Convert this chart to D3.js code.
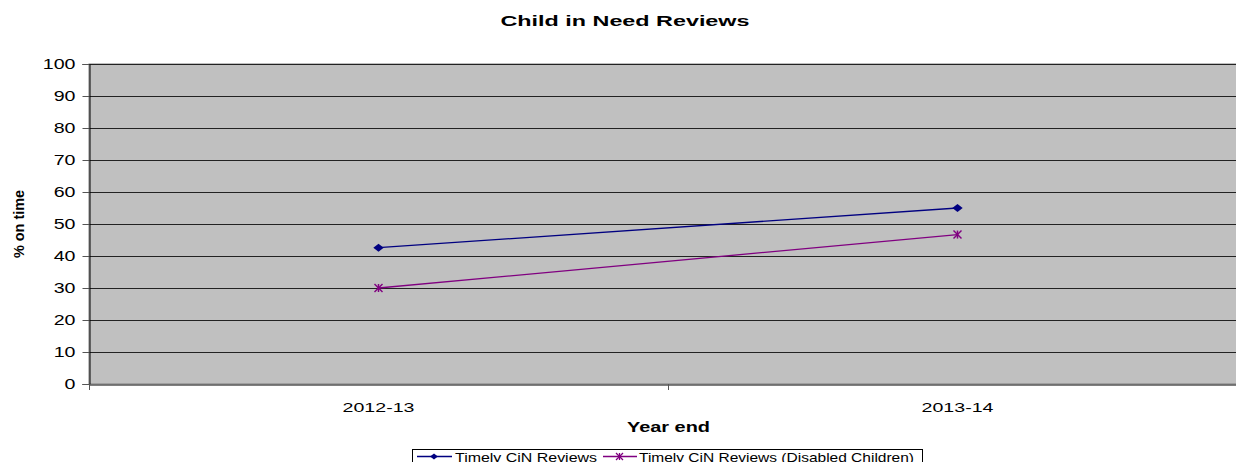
<!DOCTYPE html>
<html><head><meta charset="utf-8">
<script src="https://cdn.jsdelivr.net/npm/d3@7"></script>
<style>body{margin:0;background:#fff;overflow:hidden}text{font-family:"Liberation Sans",Arial,sans-serif}</style>
</head><body><svg id="c" width="1236" height="462"></svg>
<script>
const categories = ["2012-13", "2013-14"];
const seriesNames = ["Timely CiN Reviews", "Timely CiN Reviews (Disabled Children)"];
const reviews = [42.6, 55.0];
const disabledReviews = [30.0, 46.7];
const yTicks = [0,10,20,30,40,50,60,70,80,90,100];

const svg = d3.select("#c");
const L = 89, R = 1247, T = 64, B = 384;
const x = d3.scaleBand().domain(categories).range([L, R]);
const y = d3.scaleLinear().domain([0,100]).range([B, T]);

function stretch(sel, f){ sel.each(function(){ const w = this.getComputedTextLength(); d3.select(this).attr("textLength", w*f).attr("lengthAdjust","spacingAndGlyphs"); }); }

svg.append("rect").attr("x", L).attr("y", T).attr("width", R-L).attr("height", B-T)
  .attr("fill", "#c0c0c0").attr("stroke", "#808080");

svg.append("g").selectAll("line").data(yTicks.filter(d => d > 0)).join("line")
  .attr("x1", L).attr("x2", R).attr("y1", d => Math.round(y(d))+0.5).attr("y2", d => Math.round(y(d))+0.5)
  .attr("stroke", "#222").attr("stroke-width", 1);

const yAxis = svg.append("g").attr("transform", `translate(${L+0.5},0)`)
  .call(d3.axisLeft(y).tickValues(yTicks).tickSize(7).tickPadding(7));
yAxis.select(".domain").attr("stroke", "#000");
yAxis.selectAll(".tick line").attr("stroke", "#555");
yAxis.selectAll("text").attr("font-size", 14).attr("fill", "#000").attr("font-family","Liberation Sans, Arial, sans-serif");
stretch(yAxis.selectAll("text"), 1.4);

const xAxis = svg.append("g").attr("transform", `translate(0,${B+0.5})`)
  .call(d3.axisBottom(x).tickSize(0).tickPadding(18));
xAxis.select(".domain").attr("stroke", "#555").attr("stroke-width", 1.5);
xAxis.selectAll("text").attr("font-size", 13.5).attr("fill", "#000").attr("font-family","Liberation Sans, Arial, sans-serif");
stretch(xAxis.selectAll("text"), 1.45);
svg.append("g").selectAll("line").data([L, L + x.bandwidth()]).join("line")
  .attr("x1", d => d+0.5).attr("x2", d => d+0.5).attr("y1", B).attr("y2", B+6).attr("stroke", "#555");

const cx = d => x(d) + x.bandwidth()/2;
const line = d3.line().x(d => cx(d.c)).y(d => y(d.v));
const s1 = categories.map((c,i) => ({c, v: reviews[i]}));
const s2 = categories.map((c,i) => ({c, v: disabledReviews[i]}));
const blue = "#000080", purple = "#800080";

svg.append("path").datum(s1).attr("d", line).attr("fill","none").attr("stroke", blue).attr("stroke-width", 1.3);
svg.append("path").datum(s2).attr("d", line).attr("fill","none").attr("stroke", purple).attr("stroke-width", 1.3);

const diamondPath = s => `M0,${-s}L${s*1.3},0L0,${s}L${-s*1.3},0Z`;
svg.append("g").selectAll("path").data(s1).join("path")
  .attr("transform", d => `translate(${cx(d.c)},${y(d.v)})`).attr("d", diamondPath(4)).attr("fill", blue);
function star(g, sz){
  g.append("line").attr("x1",-sz).attr("x2",sz).attr("y1",-sz).attr("y2",sz);
  g.append("line").attr("x1",-sz).attr("x2",sz).attr("y1",sz).attr("y2",-sz);
  g.append("line").attr("x1",0).attr("x2",0).attr("y1",-sz).attr("y2",sz);
}
svg.append("g").selectAll("g").data(s2).join("g")
  .attr("transform", d => `translate(${cx(d.c)},${y(d.v)})`)
  .attr("stroke", purple).attr("stroke-width", 1.5)
  .each(function(){ star(d3.select(this), 4); });

svg.append("text").attr("x", 625).attr("y", 26).attr("text-anchor","middle")
  .attr("font-size", 15.5).attr("font-weight","bold").text("Child in Need Reviews")
  .attr("textLength", 249).attr("lengthAdjust","spacingAndGlyphs");
svg.append("text").attr("x", 668.5).attr("y", 432).attr("text-anchor","middle")
  .attr("font-size", 14.5).attr("font-weight","bold").text("Year end")
  .attr("textLength", 83).attr("lengthAdjust","spacingAndGlyphs");
svg.append("text").attr("transform","translate(24,224) rotate(-90)").attr("text-anchor","middle")
  .attr("font-size", 15).attr("font-weight","bold").text("% on time")
  .attr("textLength", 68).attr("lengthAdjust","spacingAndGlyphs");

// legend
const lg = svg.append("g");
lg.append("rect").attr("x", 412.5).attr("y", 449.5).attr("width", 510).attr("height", 20)
  .attr("fill","#fff").attr("stroke","#000");
lg.append("line").attr("x1",417).attr("x2",452).attr("y1",456.5).attr("y2",456.5).attr("stroke",blue).attr("stroke-width",1.3);
lg.append("path").attr("transform","translate(434,456.5)").attr("d", diamondPath(3)).attr("fill",blue);
lg.append("text").attr("x",455).attr("y",462).attr("font-size",13).text(seriesNames[0])
  .attr("textLength", 142).attr("lengthAdjust","spacingAndGlyphs");
lg.append("line").attr("x1",603).attr("x2",637).attr("y1",456.5).attr("y2",456.5).attr("stroke",purple).attr("stroke-width",1.3);
const sg = lg.append("g").attr("transform","translate(619.5,456.5)").attr("stroke",purple).attr("stroke-width",1.3);
star(sg, 3.5);
lg.append("text").attr("x",639).attr("y",462).attr("font-size",13).text(seriesNames[1])
  .attr("textLength", 275).attr("lengthAdjust","spacingAndGlyphs");
</script></body></html>
